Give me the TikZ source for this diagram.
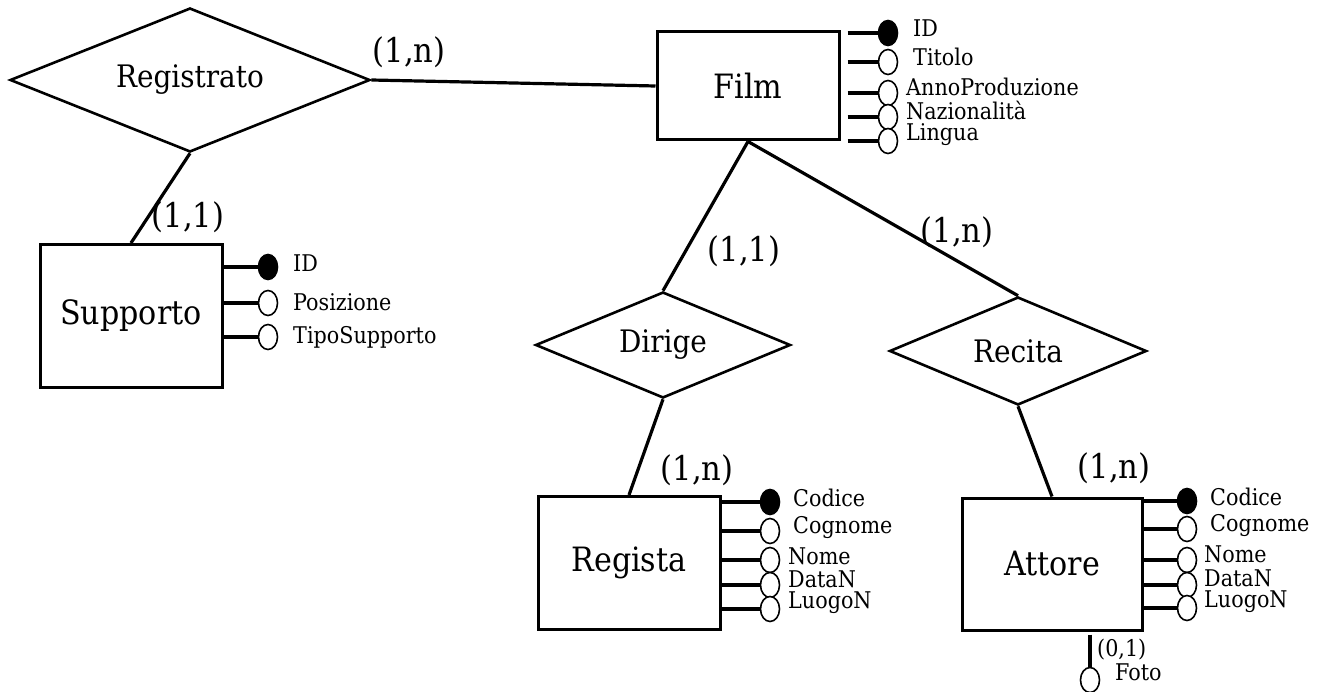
\documentclass[tikz,border=0pt]{standalone}
\usepackage{fontspec}
\setmainfont{DejaVu Serif Condensed}
\usetikzlibrary{arrows, positioning, shapes.geometric}

\begin{document}
\begin{tikzpicture}[x=1pt, y=-1pt]
		\tikzstyle{Entity} = [rectangle, draw=black, line width=3pt, inner sep=0pt, font=\fontsize{33.5}{36}\selectfont]
		\tikzstyle{Rel} = [diamond, aspect=2.5, draw=black, line width=2.6pt, inner sep=0pt, font=\fontsize{31}{34}\selectfont]
		\tikzstyle{Card} = [inner sep=0pt, font=\fontsize{34}{38}\selectfont]
		\tikzstyle{Attr} = [anchor=west, inner sep=0pt, font=\fontsize{23}{25}\selectfont]
		\tikzstyle{Key} = [ellipse, draw=black, fill=black, line width=1.6pt, minimum width=19pt, minimum height=25pt, inner sep=0pt]
		\tikzstyle{Opt} = [Key, fill=white]
		\tikzstyle{link} = [line width=3.2pt, black]
		
		\useasboundingbox (0,0) rectangle (1319,692);
		
		\node (registrato) [Rel, minimum width=360pt, minimum height=144pt] at (190,80) {Registrato};
		\node (film) [Entity, minimum width=182pt, minimum height=108pt] at (748,86) {Film};
		\node (supporto) [Entity, minimum width=182pt, minimum height=143pt] at (131,316) {Supporto};
		\node (dirige) [Rel, minimum width=255pt, minimum height=106pt] at (663,345) {Dirige};
		\node (recita) [Rel, minimum width=257pt, minimum height=108pt] at (1018,351) {Recita};
		\node (regista) [Entity, minimum width=182pt, minimum height=133pt] at (629,563) {Regista};
		\node (attore) [Entity, minimum width=180pt, minimum height=132pt] at (1052,564) {Attore};
		
		\draw [link] (registrato.east) -- (film.west);
		\draw [link] (registrato.south) -- (supporto.north);
		\draw [link] (film.south) -- (dirige.north);
		\draw [link] (film.south) -- (recita.north);
		\draw [link] (dirige.south) -- (regista.north);
		\draw [link] (recita.south) -- (attore.north);
		
		\node (cregfilm) [Card] at (409,52) {(1,n)};
		\node (cregsup) [Card] at (188,217) {(1,1)};
		\node (cdirfilm) [Card] at (744,251) {(1,1)};
		\node (crecfilm) [Card] at (957,232) {(1,n)};
		\node (cdirreg) [Card] at (697,470) {(1,n)};
		\node (crecatt) [Card] at (1114,468) {(1,n)};
		
		\node (fid) [Key] at (888,33) {};
		\node (ftit) [Opt] at (888,62) {};
		\node (fanno) [Opt] at (888,93) {};
		\node (fnaz) [Opt] at (888,117) {};
		\node (fling) [Opt] at (888,141) {};
		\node (lfid) [Attr] at (913,28) {ID};
		\node (lftit) [Attr] at (913,57) {Titolo};
		\node (lfanno) [Attr] at (906,87) {AnnoProduzione};
		\node (lfnaz) [Attr] at (906,110) {Nazionalità};
		\node (lfling) [Attr] at (906,135) {Lingua};
		\draw [link] (film.east |- fid) ++(7,0) -- (fid);
		\draw [link] (film.east |- ftit) ++(7,0) -- (ftit);
		\draw [link] (film.east |- fanno) ++(7,0) -- (fanno);
		\draw [link] (film.east |- fnaz) ++(7,0) -- (fnaz);
		\draw [link] (film.east |- fling) ++(7,0) -- (fling);
		
		\node (sid) [Key] at (268,267) {};
		\node (spos) [Opt] at (268,303) {};
		\node (stipo) [Opt] at (268,337) {};
		\node (lsid) [Attr] at (293,263) {ID};
		\node (lspos) [Attr] at (293,302) {Posizione};
		\node (lstipo) [Attr] at (293,337) {TipoSupporto};
		\draw [link] (supporto.east |- sid) -- (sid);
		\draw [link] (supporto.east |- spos) -- (spos);
		\draw [link] (supporto.east |- stipo) -- (stipo);
		
		\node (rcod) [Key] at (770,502) {};
		\node (rcog) [Opt] at (770,531) {};
		\node (rnom) [Opt] at (770,560) {};
		\node (rdat) [Opt] at (770,585) {};
		\node (rluo) [Opt] at (770,609) {};
		\node (lrcod) [Attr] at (793,498) {Codice};
		\node (lrcog) [Attr] at (793,528) {Cognome};
		\node (lrnom) [Attr] at (788,556) {Nome};
		\node (lrdat) [Attr] at (788,579) {DataN};
		\node (lrluo) [Attr] at (788,603) {LuogoN};
		\draw [link] (regista.east |- rcod) -- (rcod);
		\draw [link] (regista.east |- rcog) -- (rcog);
		\draw [link] (regista.east |- rnom) -- (rnom);
		\draw [link] (regista.east |- rdat) -- (rdat);
		\draw [link] (regista.east |- rluo) -- (rluo);
		
		\node (acod) [Key] at (1187,501) {};
		\node (acog) [Opt] at (1187,529) {};
		\node (anom) [Opt] at (1187,560) {};
		\node (adat) [Opt] at (1187,585) {};
		\node (aluo) [Opt] at (1187,608) {};
		\node (lacod) [Attr] at (1210,497) {Codice};
		\node (lacog) [Attr] at (1210,526) {Cognome};
		\node (lanom) [Attr] at (1204,554) {Nome};
		\node (ladat) [Attr] at (1204,578) {DataN};
		\node (laluo) [Attr] at (1204,602) {LuogoN};
		\draw [link] (attore.east |- acod) -- (acod);
		\draw [link] (attore.east |- acog) -- (acog);
		\draw [link] (attore.east |- anom) -- (anom);
		\draw [link] (attore.east |- adat) -- (adat);
		\draw [link] (attore.east |- aluo) -- (aluo);
		
		\node (afoto) [Opt] at (1090,680) {};
		\node (lafcard) [Attr] at (1097,650) {(0,1)};
		\node (lafoto) [Attr] at (1115,672) {Foto};
		\draw [link] (afoto |- attore.south) ++(0,3) -- (afoto);
\end{tikzpicture}
\end{document}
